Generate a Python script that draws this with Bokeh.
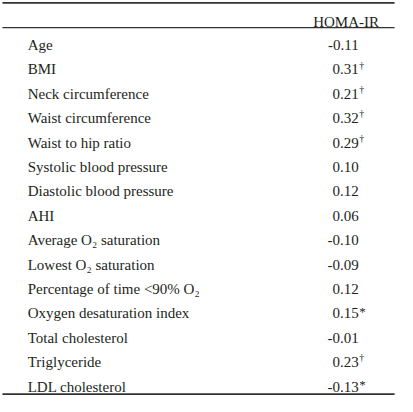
from bokeh.plotting import figure
from bokeh.models import Range1d, ColumnDataSource
from bokeh.core.properties import value
from bokeh.embed import file_html
from bokeh.resources import INLINE

variables = ["Age", "BMI", "Neck circumference", "Waist circumference", "Waist to hip ratio",
             "Systolic blood pressure", "Diastolic blood pressure", "AHI",
             "Average O\u2082 saturation", "Lowest O\u2082 saturation",
             "Percentage of time <90% O\u2082", "Oxygen desaturation index",
             "Total cholesterol", "Triglyceride", "LDL cholesterol"]
homa_ir = ["-0.11", "0.31", "0.21", "0.32", "0.29", "0.10", "0.12", "0.06",
           "-0.10", "-0.09", "0.12", "0.15", "-0.01", "0.23", "-0.13"]
marks = ["", "\u2020", "\u2020", "\u2020", "\u2020", "", "", "", "", "", "", "*", "", "\u2020", "*"]
header = "HOMA-IR"

FONT = value("Liberation Serif")
TXT = "#231f20"

p = figure(width=397, height=396, output_backend="svg", toolbar_location=None,
           x_range=Range1d(2, 411), y_range=Range1d(411, 2), min_border=0)
p.axis.visible = False
p.grid.visible = False
p.outline_line_color = None
p.background_fill_color = "white"
p.border_fill_color = "white"

row0 = 48.0
step = 25.2
ys = [row0 + i * step for i in range(len(variables))]
mark_sizes = ["13px" if m == "*" else "10px" for m in marks]
mark_dy = [2.5 if m == "*" else 4.5 for m in marks]

src = ColumnDataSource(dict(lab=variables, val=homa_ir, mk=marks, y=ys,
                            xl=[30] * len(ys), xv=[371] * len(ys), xm=[371.5] * len(ys),
                            ym=[y - d for y, d in zip(ys, mark_dy)], ms=mark_sizes))

# horizontal rules of the table
p.segment(x0=[4, 4, 4], y0=[4.5, 30, 408.5], x1=[408, 408, 408], y1=[4.5, 30, 408.5],
          line_color="#333333", line_width=[1.8, 1.2, 1.8])

p.text(x=358, y=24, text=[header], text_font=FONT, text_font_size="15px",
       text_align="center", text_baseline="alphabetic", text_color=TXT)

p.text(x="xl", y="y", text="lab", source=src, text_font=FONT, text_font_size="15px",
       text_align="left", text_baseline="alphabetic", text_color=TXT)
p.text(x="xv", y="y", text="val", source=src, text_font=FONT, text_font_size="15px",
       text_align="right", text_baseline="alphabetic", text_color=TXT)
p.text(x="xm", y="ym", text="mk", source=src, text_font=FONT, text_font_size="ms",
       text_align="left", text_baseline="alphabetic", text_color=TXT)

open("out.html", "w").write(file_html(p, INLINE))
